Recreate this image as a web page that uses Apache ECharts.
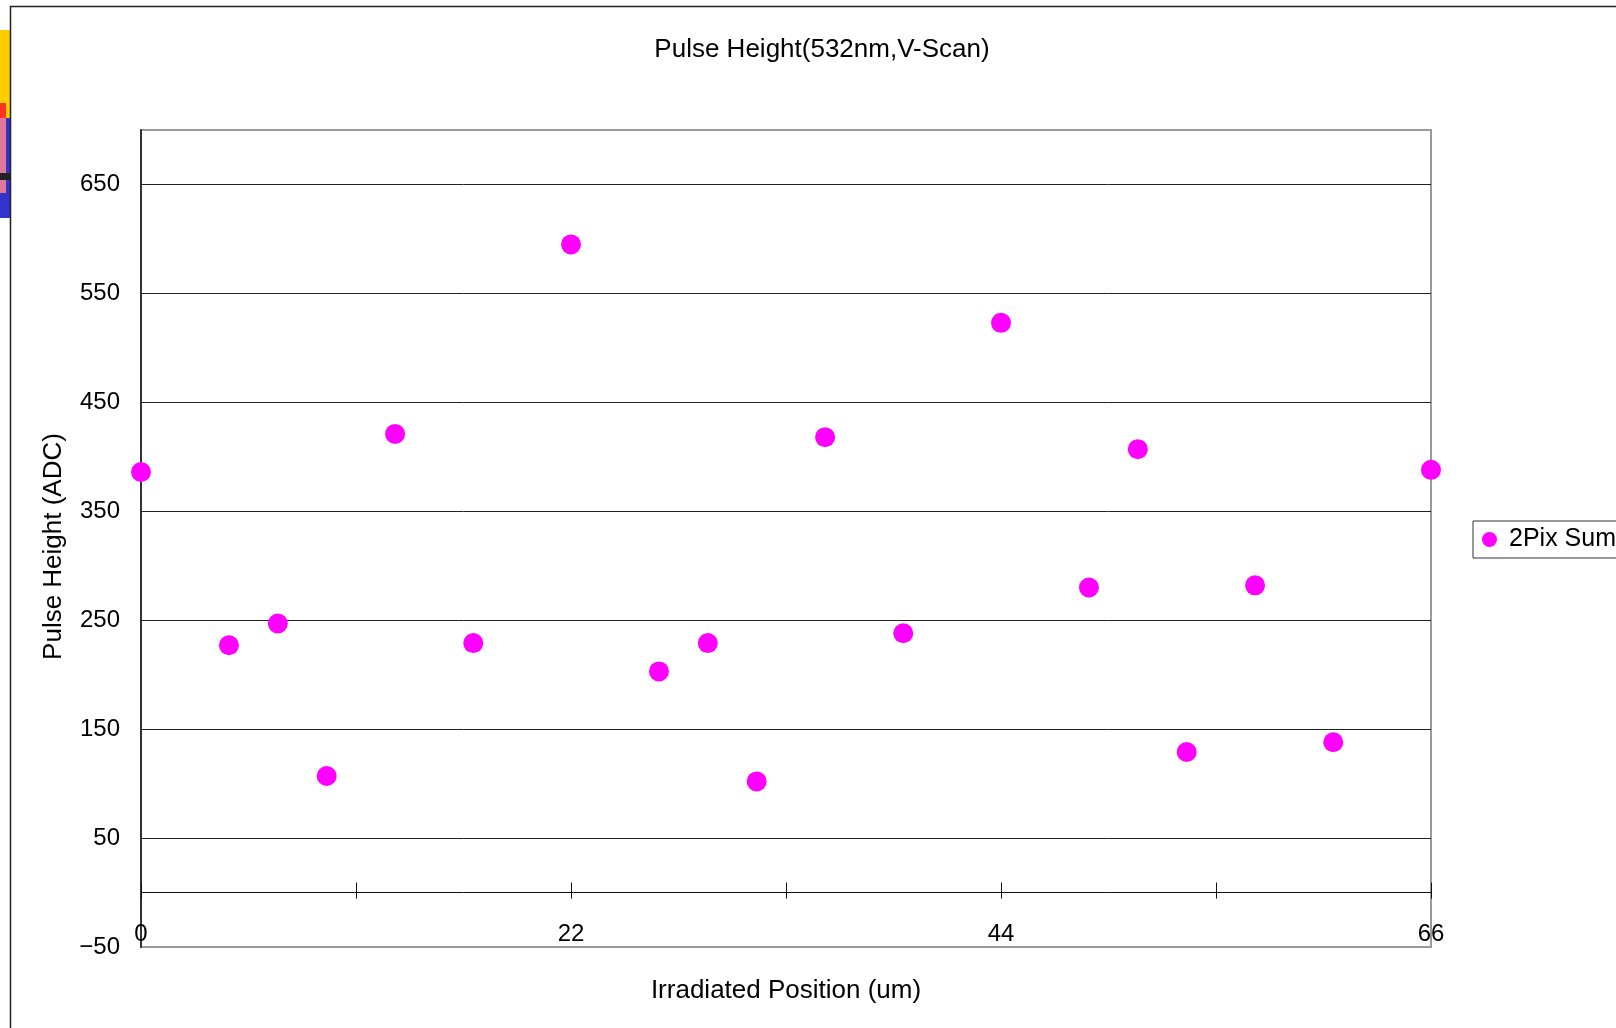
<!DOCTYPE html>
<html>
<head>
<meta charset="utf-8">
<script src="https://cdn.jsdelivr.net/npm/echarts@6/dist/echarts.min.js"></script>
<style>
  html, body { margin: 0; padding: 0; background: #fff; }
  #chart { width: 1616px; height: 1028px; }
</style>
</head>
<body>
<div id="chart"></div>
<script>
// ---- data ----
const positions = [0, 4.5, 7, 9.5, 13, 17, 22, 26.5, 29, 31.5, 35, 39, 44, 48.5, 51, 53.5, 57, 61, 66];
const pulseHeights = [386, 227, 247, 107, 421, 229, 595, 203, 229, 102, 418, 238, 523, 280, 407, 129, 282, 138, 388];
const seriesName = '2Pix Sum';
const xTickLabels = [0, 22, 44, 66];
const yTickLabels = [-50, 50, 150, 250, 350, 450, 550, 650];
const yGridLines = [50, 150, 250, 350, 450, 550, 650];
const titleText = 'Pulse Height(532nm,V-Scan)';
const xName = 'Irradiated Position (um)';
const yName = 'Pulse Height (ADC)';

const FONT = '"Liberation Sans", Arial, sans-serif';
const chart = echarts.init(document.getElementById('chart'));

const fmtNum = v => String(v).replace('-', '\u2212');

const option = {
  animation: false,
  backgroundColor: '#fff',
  textStyle: { fontFamily: FONT },
  grid: {
    left: 141, top: 130, width: 1290, height: 817,
    containLabel: false, outerBoundsMode: 'none',
    show: true, borderColor: '#9a9a9a', borderWidth: 2, backgroundColor: 'transparent'
  },
  legend: {
    left: 1473, top: 521,
    orient: 'vertical',
    padding: [6, 12, 6, 9],
    borderColor: '#333', borderWidth: 1,
    itemWidth: 15, itemHeight: 15,
    icon: 'circle',
    textStyle: { fontFamily: FONT, fontSize: 25, color: '#000', padding: [0, 0, 0, 7] },
    data: [seriesName]
  },
  xAxis: [
    {
      type: 'value', min: 0, max: 66, interval: 11,
      position: 'bottom',
      axisLine: { onZero: true, onZeroAxisIndex: 0, lineStyle: { color: '#111', width: 1 } },
      axisTick: { show: true, inside: false, length: 6, lineStyle: { color: '#111' } },
      axisLabel: {
        margin: -25, fontSize: 24, color: '#000', fontFamily: FONT,
        formatter: v => xTickLabels.includes(v) ? fmtNum(v) : ''
      },
      splitLine: { show: false },
      name: xName, nameLocation: 'middle', nameGap: 31, nameMoveOverlap: false,
      nameTextStyle: { fontSize: 26, color: '#000', fontFamily: FONT }
    },
    {
      type: 'value', min: 0, max: 66, interval: 11,
      position: 'top',
      axisLine: { onZero: true, onZeroAxisIndex: 1, show: false },
      axisTick: { show: true, inside: false, length: 10, lineStyle: { color: '#111' } },
      axisLabel: { show: false },
      splitLine: { show: false }
    }
  ],
  yAxis: [
    {
      type: 'value', min: -50, max: 700, interval: 50,
      axisLine: { show: true, onZero: false, lineStyle: { color: '#333', width: 2 } },
      axisTick: { show: false },
      axisLabel: {
        margin: 21, fontSize: 24, color: '#000', fontFamily: FONT,
        formatter: v => yTickLabels.includes(v) ? fmtNum(v) : ''
      },
      splitLine: { show: false },
      name: yName, nameLocation: 'middle', nameGap: 74,
      nameTextStyle: { fontSize: 26, color: '#000', fontFamily: FONT, padding: [0, 16, 0, 0] }
    },
    {
      type: 'value', min: -50, max: 700, interval: 50, position: 'right',
      axisLine: { show: false, onZero: false },
      axisTick: { show: false },
      axisLabel: { show: false },
      splitLine: { show: false }
    }
  ],
  series: [{
    name: seriesName,
    type: 'scatter',
    xAxisIndex: 0,
    yAxisIndex: 0,
    z: 3,
    symbol: 'circle',
    symbolSize: 20,
    itemStyle: { color: '#FF00FF', opacity: 1 },
    data: positions.map((x, i) => [x, pulseHeights[i]]),
    markLine: {
      z: 1,
      silent: true,
      symbol: ['none', 'none'],
      label: { show: false },
      lineStyle: { color: '#222', width: 1, type: 'solid' },
      emphasis: { disabled: true },
      data: yGridLines.map(v => ({ yAxis: v }))
    }
  }],
  graphic: [
    { type: 'rect', silent: true, z: 100, shape: { x: 10.5, y: 6.5, width: 1700, height: 1100 },
      style: { fill: 'none', stroke: '#222', lineWidth: 1.5 } },
    { type: 'rect', silent: true, z: 99, shape: { x: 0, y: 30, width: 10, height: 88 }, style: { fill: '#FFCC00' } },
    { type: 'rect', silent: true, z: 99, shape: { x: 0, y: 118, width: 10, height: 100 }, style: { fill: '#3333CC' } },
    { type: 'rect', silent: true, z: 99, shape: { x: 0, y: 103, width: 6, height: 15 }, style: { fill: '#FF3322' } },
    { type: 'rect', silent: true, z: 99, shape: { x: 0, y: 118, width: 6, height: 75 }, style: { fill: '#E0789A' } },
    { type: 'rect', silent: true, z: 99, shape: { x: 0, y: 173, width: 10, height: 7 }, style: { fill: '#222' } },
    { type: 'text', silent: true, z: 100, x: 822, y: 50,
      style: { text: titleText, font: '26px ' + FONT, fill: '#000', textAlign: 'center', textVerticalAlign: 'middle' } }
  ]
};
chart.setOption(option);
</script>
</body>
</html>
